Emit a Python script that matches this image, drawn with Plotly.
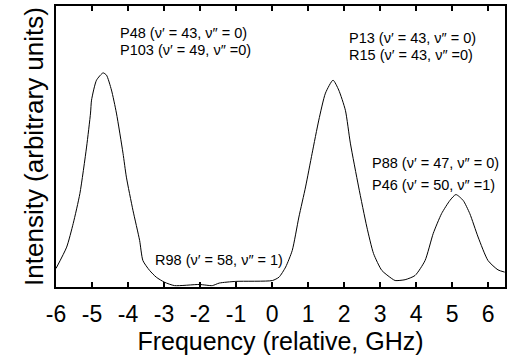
import plotly.graph_objects as go

freq = [-6.0, -5.704, -5.522, -5.336, -5.151, -5.041, -5.013, -4.875, -4.692, -4.598,
        -4.460, -4.322, -4.139, -4.045, -3.863, -3.678, -3.586, -3.401, -3.216, -2.987,
        -2.710, -2.019, -1.659, -1.466, -1.004, 0.008, 0.193, 0.378, 0.561, 0.746,
        0.931, 1.114, 1.299, 1.484, 1.694, 1.852, 2.037, 2.175, 2.405, 2.634,
        2.819, 3.049, 3.325, 3.419, 3.696, 3.972, 4.249, 4.478, 4.708, 4.940,
        5.106, 5.308, 5.493, 5.722, 5.999, 6.275, 6.461]
intensity = [0.066, 0.142, 0.226, 0.333, 0.498, 0.619, 0.665, 0.736, 0.762, 0.754,
             0.701, 0.619, 0.476, 0.391, 0.273, 0.166, 0.094, 0.059, 0.035, 0.017,
             0.005, 0.009, 0.005, 0.014, 0.020, 0.023, 0.035, 0.071, 0.130, 0.249,
             0.356, 0.476, 0.594, 0.690, 0.736, 0.701, 0.629, 0.512, 0.356, 0.213,
             0.119, 0.059, 0.030, 0.023, 0.026, 0.041, 0.094, 0.191, 0.261, 0.308,
             0.329, 0.308, 0.261, 0.178, 0.094, 0.061, 0.053]

tick_vals = [-6, -5, -4, -3, -2, -1, 0, 1, 2, 3, 4, 5, 6]
tick_text = ["-6", "-5", "-4", "-3", "-2", "-1", "0", "1", "2", "3", "4", "5", "6"]

label_text = [
    "P48 (\u03bd\u2032 = 43, \u03bd\u2033 = 0)",
    "P103 (\u03bd\u2032 = 49, \u03bd\u2033 =0)",
    "P13 (\u03bd\u2032 = 43, \u03bd\u2033 = 0)",
    "R15 (\u03bd\u2032 = 43, \u03bd\u2033 =0)",
    "P88 (\u03bd\u2032 = 47, \u03bd\u2033 = 0)",
    "P46 (\u03bd\u2032 = 50, \u03bd\u2033 =1)",
    "R98 (\u03bd\u2032 = 58, \u03bd\u2033 = 1)",
]
label_x = [-4.23, -4.23, 2.13, 2.13, 2.77, 2.77, -3.26]
label_y = [0.904, 0.844, 0.885, 0.825, 0.440, 0.362, 0.0945]

FAM = "Liberation Sans, Arial"

fig = go.Figure()
fig.add_trace(go.Scatter(x=freq, y=intensity, mode="lines", line_shape="spline",
                         line=dict(color="black", width=1, smoothing=0.6), showlegend=False))

for t, x, y in zip(label_text, label_x, label_y):
    fig.add_annotation(x=x, y=y, text=t, showarrow=False, xanchor="left", xshift=-2,
                       yanchor="middle", font=dict(family=FAM, size=14.5, color="black"))

fig.update_layout(
    width=510, height=362,
    margin=dict(l=56, r=3, t=6, b=75),
    paper_bgcolor="white", plot_bgcolor="white",
    font=dict(family=FAM, color="black"),
    xaxis=dict(range=[-6, 6.47], tickvals=tick_vals, ticktext=tick_text,
               ticks="inside", ticklen=5, tickwidth=1.5, tickcolor="black",
               showline=True, linecolor="black", linewidth=1.5, mirror="allticks",
               showgrid=False, zeroline=False, ticklabelstandoff=6,
               tickfont=dict(size=23, family=FAM, color="black"),
               title=dict(text="Frequency (relative, GHz)", standoff=5,
                          font=dict(size=25, family=FAM, color="black"))),
    yaxis=dict(range=[0, 1], showticklabels=False, ticks="",
               showline=True, linecolor="black", linewidth=1.5, mirror=True,
               showgrid=False, zeroline=False,
               title=dict(text="Intensity (arbitrary units)", standoff=3,
                          font=dict(size=26, family=FAM, color="black"))),
)

fig.write_html("out.html")
